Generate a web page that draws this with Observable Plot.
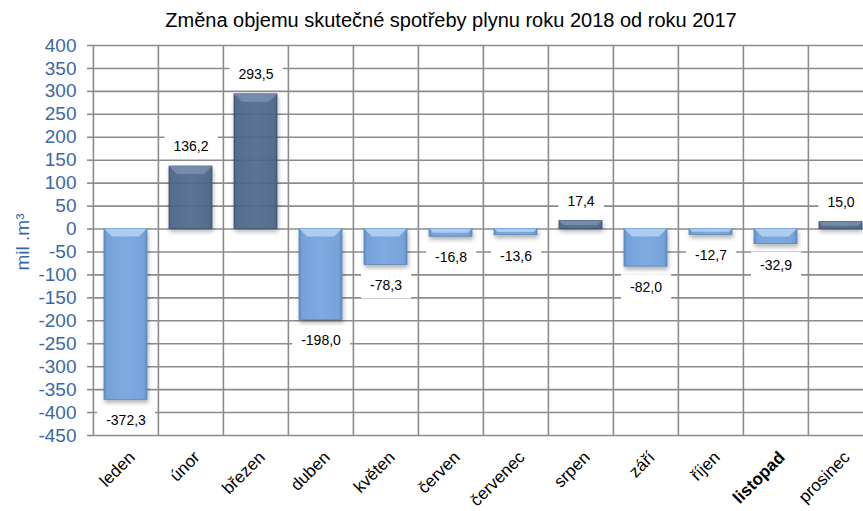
<!DOCTYPE html>
<html><head><meta charset="utf-8">
<script src="https://cdn.jsdelivr.net/npm/d3@7"></script>
<script src="https://cdn.jsdelivr.net/npm/@observablehq/plot@0.6"></script>
<style>
body{margin:0;background:#fff;overflow:hidden;font-family:"Liberation Sans",Arial,sans-serif}
#wrap{position:relative;width:863px;height:511px;overflow:hidden}
#title{position:absolute;top:9px;left:0;width:902px;text-align:center;font-size:20px;color:#000;white-space:nowrap}
#chart{position:absolute;top:0;left:0}
</style></head><body>
<div id="wrap"><div id="chart"></div><div id="title"></div></div>
<script>
const titleText = "Změna objemu skutečné spotřeby plynu roku 2018 od roku 2017";
const yLabel = "mil .m³";
const months = ["leden","únor","březen","duben","květen","červen","červenec","srpen","září","říjen","listopad","prosinec"];
const changes = [-372.3,136.2,293.5,-198.0,-78.3,-16.8,-13.6,17.4,-82.0,-12.7,-32.9,15.0];
const yTicks = [-450,-400,-350,-300,-250,-200,-150,-100,-50,0,50,100,150,200,250,300,350,400];

document.getElementById("title").textContent = titleText;
const data = months.map((m, i) => ({month: m, value: changes[i]}));
const pos = data.filter(d => d.value >= 0);
const neg = data.filter(d => d.value < 0);
const fmt = v => v.toFixed(1).replace(".", ",");
const step = 65.2, left = 92, grid = "#8c8c8c", blue = "#3a68a6";

const chart = Plot.plot({
  width: 863, height: 511,
  marginTop: 45, marginBottom: 76, marginLeft: 92, marginRight: 0,
  style: {fontFamily: "'Liberation Sans', Arial, sans-serif", background: "transparent", overflow: "hidden"},
  x: {domain: months, range: [left, left + step * 12], padding: 0, axis: null},
  y: {domain: [-450, 400]},
  marks: [
    Plot.ruleY(yTicks, {stroke: grid, strokeWidth: 1.6}),
    Plot.ruleX(months, {x: d => d, dx: -step / 2, stroke: grid, strokeWidth: 1.6}),
    Plot.axisY({ticks: yTicks, tickSize: 5, tickFormat: () => "", color: grid, strokeWidth: 1.6, label: null}),
    Plot.axisY({ticks: yTicks, tickSize: 0, tickPadding: 16, tickFormat: d => String(d), fontSize: 19, color: blue, label: null}),
    Plot.text([yLabel], {frameAnchor: "left", text: d => d, rotate: -90, dx: -70, dy: 30, fontSize: 19, fill: blue}),
    Plot.barY(neg, {x: "month", y: "value", fill: "url(#negGrad)", insetLeft: 11, insetRight: 11}),
    Plot.barY(pos, {x: "month", y: "value", fill: "url(#posGrad)", fillOpacity: 0.9, insetLeft: 11, insetRight: 11}),
    Plot.text(pos, {x: "month", y: "value", text: d => fmt(d.value), dy: -20, fontSize: 14, fill: "#000"}),
    Plot.text(neg, {x: "month", y: "value", text: d => fmt(d.value), dy: 21, fontSize: 14, fill: "#000"}),
    Plot.text(months, {x: d => d, text: d => d, frameAnchor: "bottom", rotate: -45, textAnchor: "end", lineAnchor: "middle", dx: 6, dy: 19, fontSize: 17, fill: "#000"})
  ]
});
document.getElementById("chart").appendChild(chart);

const NS = "http://www.w3.org/2000/svg";
const svg = d3.select(chart);
const defs = svg.insert("defs", ":first-child");
function grad(id, stops) {
  const g = defs.append("linearGradient").attr("id", id).attr("x1", 0).attr("x2", 1).attr("y1", 0).attr("y2", 0);
  stops.forEach(([o, c]) => g.append("stop").attr("offset", o).attr("stop-color", c));
}
grad("negGrad", [[0, "#5f8dc6"], [0.08, "#76a3da"], [0.5, "#7eaae0"], [0.92, "#76a3da"], [1, "#5f8dc6"]]);
grad("posGrad", [[0, "#3f5677"], [0.08, "#4b6487"], [0.5, "#516b8f"], [0.92, "#4b6487"], [1, "#3f5677"]]);
const f = defs.append("filter").attr("id", "shadow").attr("x", "-20%").attr("y", "-20%").attr("width", "150%").attr("height", "150%");
f.append("feDropShadow").attr("dx", 1).attr("dy", 3).attr("stdDeviation", 2).attr("flood-color", "#000").attr("flood-opacity", 0.3);

const barGroups = svg.selectAll("g[aria-label='bar']").nodes();
barGroups.forEach((g, gi) => {
  const light = gi === 0 ? "#b4d3f3" : "#7d93b3";
  const dark = gi === 0 ? "#5a84b8" : "#3a5070";
  d3.select(g).attr("filter", "url(#shadow)");
  d3.select(g).selectAll("rect").each(function() {
    const r = d3.select(this);
    const x = +r.attr("x"), y = +r.attr("y"), w = +r.attr("width"), h = +r.attr("height");
    const b = Math.min(8, h * 0.55);
    r.attr("stroke", dark).attr("stroke-width", 0.8);
    d3.select(g).append("polygon")
      .attr("points", `${x},${y} ${x + w},${y} ${x + w - b},${y + b} ${x + b},${y + b}`)
      .attr("fill", light).attr("opacity", 0.85).attr("transform", r.attr("transform"));
  });
});

const textGroups = svg.selectAll("g[aria-label='text']").nodes();
textGroups.forEach(g => {
  const texts = Array.from(g.querySelectorAll("text"));
  if (texts.some(t => t.textContent === yLabel || months.includes(t.textContent))) return;
  texts.forEach(t => {
    const bb = t.getBBox();
    const rect = document.createElementNS(NS, "rect");
    rect.setAttribute("x", bb.x - 9);
    rect.setAttribute("y", bb.y - 5);
    rect.setAttribute("width", bb.width + 18);
    rect.setAttribute("height", bb.height + 10);
    rect.setAttribute("fill", "#fff");
    if (t.getAttribute("transform")) rect.setAttribute("transform", t.getAttribute("transform"));
    g.insertBefore(rect, t);
  });
});

svg.selectAll("text").filter(function() { return this.textContent === "listopad"; }).attr("font-weight", "bold");
</script>
</body></html>
